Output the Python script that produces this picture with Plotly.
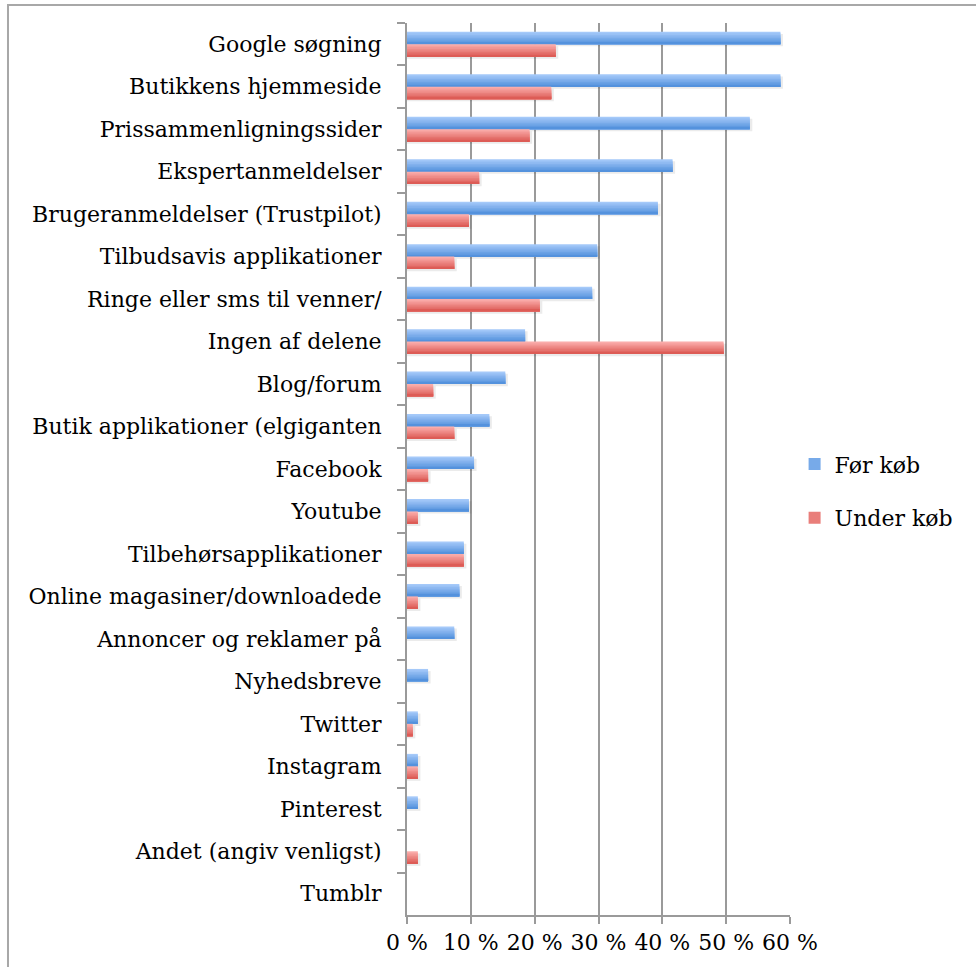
import plotly.graph_objects as go

# Information sources used before and during a purchase (share of respondents, %)
categories = [
    "Google søgning",
    "Butikkens hjemmeside",
    "Prissammenligningssider",
    "Ekspertanmeldelser",
    "Brugeranmeldelser (Trustpilot)",
    "Tilbudsavis applikationer",
    "Ringe eller sms til venner/",
    "Ingen af delene",
    "Blog/forum",
    "Butik applikationer (elgiganten",
    "Facebook",
    "Youtube",
    "Tilbehørsapplikationer",
    "Online magasiner/downloadede",
    "Annoncer og reklamer på",
    "Nyhedsbreve",
    "Twitter",
    "Instagram",
    "Pinterest",
    "Andet (angiv venligst)",
    "Tumblr",
]
foer_koeb = [58.5, 58.5, 53.7, 41.6, 39.3, 29.8, 29.0, 18.5, 15.4, 12.9, 10.5,
             9.7, 8.9, 8.2, 7.4, 3.3, 1.7, 1.7, 1.7, 0.0, 0.0]
under_koeb = [23.3, 22.6, 19.2, 11.3, 9.7, 7.4, 20.8, 49.6, 4.1, 7.4, 3.3,
              1.7, 8.9, 1.7, 0.0, 0.0, 0.9, 1.7, 0.0, 1.7, 0.0]
x_ticks = [0, 10, 20, 30, 40, 50, 60]

FONT = "DejaVu Serif"
BAR_W = 0.293      # thickness of one bar in category units
N_STRIPES = 8      # bands used to shade each bar from light (top) to dark (bottom)


def mix(c1, c2, t):
    return "rgb(%d,%d,%d)" % tuple(round(a + (b - a) * t) for a, b in zip(c1, c2))


series = [
    ("Før køb", foer_koeb, (165, 201, 249), (84, 146, 221), -BAR_W),
    ("Under køb", under_koeb, (250, 172, 170), (221, 92, 86), 0.0),
]

fig = go.Figure()

# soft drop shadows behind the bars
for name, vals, top, bot, off in series:
    fig.add_trace(go.Bar(
        y=categories, x=[v + 0.4 if v > 0 else 0 for v in vals], orientation="h",
        offset=off + 0.05, width=BAR_W, marker=dict(color="rgba(0,0,0,0.08)", line_width=0),
        showlegend=False, hoverinfo="skip",
    ))

# gradient-shaded bars: each band runs from its top edge to the bar's bottom edge,
# so later (darker) bands overlap earlier ones without leaving seams
for name, vals, top, bot, off in series:
    sw = BAR_W / N_STRIPES
    for k in range(N_STRIPES):
        t = k / (N_STRIPES - 1)
        fig.add_trace(go.Bar(
            y=categories, x=vals, orientation="h",
            offset=off + k * sw, width=BAR_W - k * sw,
            marker=dict(color=mix(top, bot, t), line_width=0),
            name=name, legendgroup=name,
            showlegend=(k == N_STRIPES // 2),
            hovertemplate="%{y}: %{x} %<extra>" + name + "</extra>",
        ))

fig.update_layout(
    width=976, height=967,
    margin=dict(l=407, r=186, t=23, b=50),
    paper_bgcolor="white", plot_bgcolor="white",
    barmode="overlay",
    font=dict(family=FONT, size=22, color="black"),
    legend=dict(
        x=1.012, y=0.475, xanchor="left", yanchor="middle",
        traceorder="grouped", tracegroupgap=22,
        font=dict(family=FONT, size=22, color="black"),
        itemwidth=30, bgcolor="rgba(0,0,0,0)",
    ),
    xaxis=dict(
        range=[0, 60], tickvals=x_ticks, ticktext=[f"{v} %" for v in x_ticks],
        showgrid=True, gridcolor="#9a9a9a", gridwidth=2,
        showline=True, linecolor="#9a9a9a", linewidth=2,
        ticks="outside", ticklen=7, tickwidth=2, tickcolor="#9a9a9a",
        zeroline=False, fixedrange=True,
    ),
    yaxis=dict(
        type="category", categoryorder="array", categoryarray=categories,
        range=[20.5, -0.5],
        showgrid=False, showline=True, linecolor="#9a9a9a", linewidth=2,
        ticks="outside", tickson="boundaries", ticklen=8, tickwidth=2, tickcolor="#9a9a9a",
        ticklabelstandoff=19, fixedrange=True,
    ),
    shapes=[dict(
        type="rect", xref="paper", yref="paper",
        x0=-1.0418, x1=1.6, y0=-0.2, y1=1.0201,
        line=dict(color="#a8a8a8", width=2), fillcolor="rgba(0,0,0,0)", layer="below",
    )],
)

fig.write_html("out.html")
